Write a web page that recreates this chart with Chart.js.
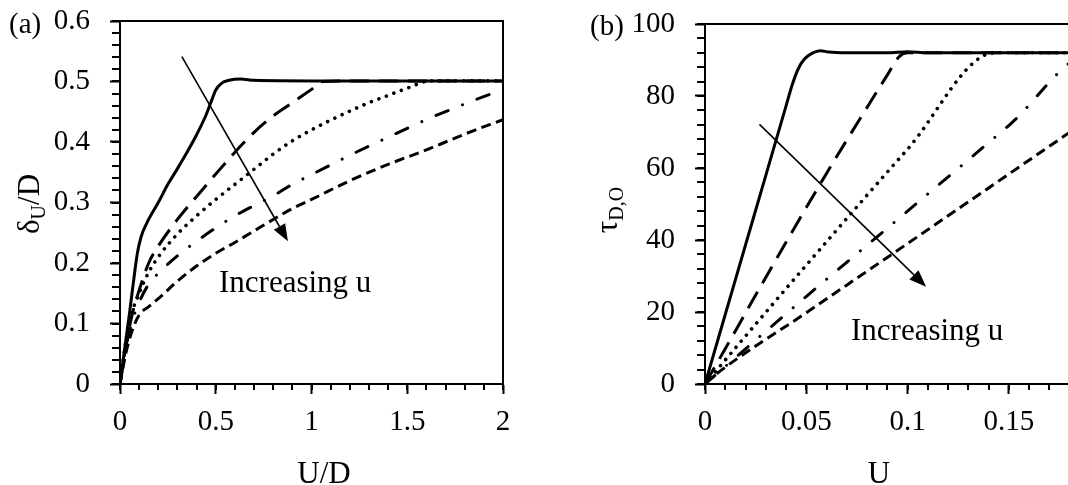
<!DOCTYPE html>
<html>
<head>
<meta charset="utf-8">
<script src="https://cdn.jsdelivr.net/npm/chart.js@4.4.1/dist/chart.umd.min.js"></script>
<style>
  html, body { margin: 0; padding: 0; background: #fff; overflow: hidden; width: 1068px; height: 485px; }
  #wrap { position: relative; width: 1068px; height: 485px; overflow: hidden; }
  canvas { position: absolute; top: 0; }
  #chartA { left: 0; width: 534px; height: 485px; }
  #chartB { left: 534px; width: 610px; height: 485px; }
</style>
</head>
<body>
<div id="wrap">
  <canvas id="chartA" width="534" height="485"></canvas>
  <canvas id="chartB" width="610" height="485"></canvas>
</div>
<script>
// ---------- (a) δU/D against U/D, one curve per u ----------
const ratioCurve1 = [[0,0],[0.02,0.048],[0.05,0.118],[0.07,0.168],[0.09,0.215],[0.11,0.243],[0.14,0.266],[0.2,0.3],[0.25,0.33],[0.3,0.356],[0.35,0.383],[0.4,0.412],[0.45,0.445],[0.48,0.47],[0.5,0.486],[0.53,0.497],[0.57,0.502],[0.63,0.504],[0.7,0.502],[1.0,0.501],[2.0,0.501]];
const ratioCurve2 = [[0,0],[0.03,0.06],[0.06,0.11],[0.1,0.155],[0.15,0.2],[0.2,0.228],[0.3,0.272],[0.4,0.31],[0.5,0.347],[0.6,0.383],[0.7,0.416],[0.8,0.443],[0.9,0.465],[1.0,0.487],[1.06,0.5],[1.2,0.501],[2.0,0.501]];
const ratioCurve3 = [[0,0],[0.03,0.07],[0.06,0.115],[0.1,0.15],[0.15,0.185],[0.2,0.21],[0.3,0.248],[0.4,0.278],[0.5,0.305],[0.6,0.33],[0.7,0.355],[0.8,0.38],[0.9,0.402],[1.0,0.42],[1.1,0.436],[1.2,0.451],[1.3,0.465],[1.4,0.477],[1.5,0.489],[1.62,0.501],[2.0,0.501]];
const ratioCurve4 = [[0,0],[0.03,0.06],[0.06,0.1],[0.1,0.135],[0.15,0.165],[0.2,0.183],[0.3,0.212],[0.4,0.236],[0.5,0.258],[0.6,0.278],[0.7,0.295],[0.8,0.311],[0.9,0.33],[1.0,0.346],[1.2,0.378],[1.4,0.408],[1.6,0.437],[1.8,0.463],[2.0,0.487]];
const ratioCurve5 = [[0,0],[0.03,0.05],[0.06,0.085],[0.1,0.114],[0.15,0.128],[0.2,0.141],[0.3,0.17],[0.4,0.195],[0.5,0.216],[0.6,0.234],[0.7,0.253],[0.8,0.272],[0.9,0.29],[1.0,0.305],[1.2,0.336],[1.4,0.363],[1.6,0.387],[1.8,0.413],[2.0,0.437]];
const ticksAx = [0, 0.5, 1, 1.5, 2];
const labelsAx = ['0', '0.5', '1', '1.5', '2'];
const ticksAy = [0, 0.1, 0.2, 0.3, 0.4, 0.5, 0.6];
const labelsAy = ['0', '0.1', '0.2', '0.3', '0.4', '0.5', '0.6'];

// ---------- (b) τD,O against U, one curve per u ----------
const tauCurve1 = [[0,0],[0.01,19.3],[0.02,38.6],[0.03,57.9],[0.04,77.2],[0.043,83],[0.046,87.5],[0.049,90.2],[0.053,91.9],[0.057,92.6],[0.061,92.2],[0.07,92],[0.09,92],[0.1,92.3],[0.11,92],[0.2,92]];
const tauCurve2 = [[0,0],[0.01,9.8],[0.03,29.6],[0.06,58.5],[0.08,76.8],[0.09,85.8],[0.096,91],[0.1,92],[0.2,92]];
const tauCurve3 = [[0,0],[0.02,13.3],[0.05,33],[0.1,65.2],[0.143,92],[0.2,92]];
const tauCurve4 = [[0,0],[0.05,24.3],[0.1,48],[0.15,71.8],[0.192,92],[0.2,92]];
const tauCurve5 = [[0,0],[0.005,2.5],[0.05,19.8],[0.1,39],[0.15,58.3],[0.2,77.6]];
const ticksBx = [0, 0.05, 0.1, 0.15, 0.2];
const labelsBx = ['0', '0.05', '0.1', '0.15', '0.2'];
const ticksBy = [0, 20, 40, 60, 80, 100];
const labelsBy = ['0', '20', '40', '60', '80', '100'];

const SERIF = '"Liberation Serif", "Times New Roman", serif';
const INK = '#000';

const toXY = pts => pts.map(p => ({ x: p[0], y: p[1] }));

// line looks shared by both panels, in u order
const curveStyles = [
  { borderWidth: 3,   borderDash: [],                     borderCapStyle: 'round' },
  { borderWidth: 3,   borderDash: [19, 10],               borderCapStyle: 'butt' },
  { borderWidth: 3.6, borderDash: [0.01, 8],              borderCapStyle: 'round' },
  { borderWidth: 3,   borderDash: [13, 15.5, 0.01, 15.5], borderCapStyle: 'round' },
  { borderWidth: 3,   borderDash: [10, 5.5],              borderCapStyle: 'butt' }
];

function makeDatasets(curves) {
  return curves.map((c, i) => Object.assign({
    data: toXY(c),
    borderColor: INK,
    backgroundColor: INK,
    fill: false,
    pointRadius: 0,
    cubicInterpolationMode: 'monotone',
    borderJoinStyle: 'round'
  }, curveStyles[i]));
}

function axisConfig(o) {
  return {
    type: 'linear',
    min: o.min, max: o.max,
    border: { display: true, color: INK, width: 2 },
    grid: { display: true, drawOnChartArea: false, drawTicks: true, tickLength: 10, tickWidth: 2, tickColor: INK },
    ticks: {
      color: INK, font: { family: SERIF, size: 29 }, padding: o.pad,
      maxRotation: 0, autoSkip: false,
      callback: (v, i) => o.labels[i]
    },
    afterBuildTicks: s => { s.ticks = o.ticks.map(v => ({ value: v })); },
    afterFit: s => {
      o.fit(s);
      // the plot box is placed by the layout padding alone
      s.paddingTop = 0; s.paddingBottom = 0; s.paddingLeft = 0; s.paddingRight = 0;
    }
  };
}

// frame, minor ticks, axis titles, arrow and note
function decorations(o) {
  return {
    id: 'decorations',
    afterDraw(chart) {
      const ctx = chart.ctx, a = chart.chartArea;
      const xs = chart.scales.x, ys = chart.scales.y;
      ctx.save();
      ctx.strokeStyle = INK; ctx.fillStyle = INK; ctx.lineWidth = 2;

      // top and right edges of the frame
      ctx.beginPath();
      ctx.moveTo(Math.round(a.left), Math.round(a.top));
      ctx.lineTo(Math.round(a.right), Math.round(a.top));
      ctx.lineTo(Math.round(a.right), Math.round(a.bottom));
      ctx.stroke();

      // minor ticks
      ctx.beginPath();
      const nx = Math.round((xs.max - xs.min) / o.minorX);
      for (let i = 0; i <= nx; i++) {
        const p = Math.round(xs.getPixelForValue(xs.min + i * o.minorX));
        ctx.moveTo(p, a.bottom); ctx.lineTo(p, a.bottom + 6);
      }
      const ny = Math.round((ys.max - ys.min) / o.minorY);
      for (let i = 0; i <= ny; i++) {
        const p = Math.round(ys.getPixelForValue(ys.min + i * o.minorY));
        ctx.moveTo(a.left - 8, p); ctx.lineTo(a.left, p);
      }
      ctx.stroke();

      // panel letter
      ctx.font = '29px ' + SERIF;
      ctx.textAlign = 'left'; ctx.textBaseline = 'alphabetic';
      ctx.fillText(o.panel, o.panelX, o.panelY);

      // x title
      ctx.font = '31px ' + SERIF;
      ctx.textAlign = 'center';
      ctx.fillText(o.xTitle, o.xTitleX, o.xTitleY);

      // y title with subscript, reading upwards
      ctx.save();
      ctx.translate(o.yTitleX, o.yTitleY);
      ctx.rotate(-Math.PI / 2);
      ctx.textAlign = 'left';
      let total = 0;
      o.yTitle.forEach(part => { ctx.font = part.size + 'px ' + SERIF; total += ctx.measureText(part.t).width; });
      let x = -total / 2;
      o.yTitle.forEach(part => {
        ctx.font = part.size + 'px ' + SERIF;
        ctx.fillText(part.t, x, part.dy);
        x += ctx.measureText(part.t).width;
      });
      ctx.restore();

      // arrow showing the trend with u
      const x0 = xs.getPixelForValue(o.arrow[0]), y0 = ys.getPixelForValue(o.arrow[1]);
      const x1 = xs.getPixelForValue(o.arrow[2]), y1 = ys.getPixelForValue(o.arrow[3]);
      const ang = Math.atan2(y1 - y0, x1 - x0);
      const hl = 17, hw = 6.5;
      const bx = x1 - hl * Math.cos(ang), by = y1 - hl * Math.sin(ang);
      ctx.lineWidth = 1.6;
      ctx.beginPath(); ctx.moveTo(x0, y0); ctx.lineTo(bx, by); ctx.stroke();
      ctx.beginPath();
      ctx.moveTo(x1, y1);
      ctx.lineTo(bx + hw * Math.sin(ang), by - hw * Math.cos(ang));
      ctx.lineTo(bx - hw * Math.sin(ang), by + hw * Math.cos(ang));
      ctx.closePath(); ctx.fill();

      // note
      ctx.font = '31px ' + SERIF;
      ctx.textAlign = 'left'; ctx.textBaseline = 'alphabetic';
      ctx.fillText(o.note, xs.getPixelForValue(o.noteAt[0]), ys.getPixelForValue(o.noteAt[1]));
      ctx.restore();
    }
  };
}

function baseOptions(padding, xAxis, yAxis) {
  return {
    responsive: false, animation: false, devicePixelRatio: 1,
    layout: { padding: padding },
    plugins: { legend: { display: false }, tooltip: { enabled: false } },
    scales: { x: xAxis, y: yAxis }
  };
}

new Chart(document.getElementById('chartA'), {
  type: 'line',
  data: { datasets: makeDatasets([ratioCurve1, ratioCurve2, ratioCurve3, ratioCurve4, ratioCurve5]) },
  options: baseOptions(
    { left: 0, right: 31, top: 21, bottom: 0 },
    axisConfig({ min: 0, max: 2, ticks: ticksAx, labels: labelsAx, pad: 11, fit: s => { s.height = 101; } }),
    axisConfig({ min: 0, max: 0.6, ticks: ticksAy, labels: labelsAy, pad: 20, fit: s => { s.width = 120; } })
  ),
  plugins: [decorations({
    panel: '(a)', panelX: 9, panelY: 33,
    minorX: 0.1, minorY: 0.02,
    xTitle: 'U/D', xTitleX: 324, xTitleY: 483,
    yTitle: [{ t: 'δ', size: 31, dy: 0 }, { t: 'U', size: 20, dy: 6 }, { t: '/D', size: 31, dy: 0 }],
    yTitleX: 39, yTitleY: 204,
    arrow: [0.323, 0.541, 0.877, 0.236],
    note: 'Increasing u', noteAt: [0.517, 0.152]
  })]
});

new Chart(document.getElementById('chartB'), {
  type: 'line',
  data: { datasets: makeDatasets([tauCurve1, tauCurve2, tauCurve3, tauCurve4, tauCurve5]) },
  options: baseOptions(
    { left: 0, right: 34, top: 24, bottom: 0 },
    axisConfig({ min: 0, max: 0.2, ticks: ticksBx, labels: labelsBx, pad: 11, fit: s => { s.height = 101; } }),
    axisConfig({ min: 0, max: 100, ticks: ticksBy, labels: labelsBy, pad: 20, fit: s => { s.width = 171; } })
  ),
  plugins: [decorations({
    panel: '(b)', panelX: 56, panelY: 35,
    minorX: 0.01, minorY: 4,
    xTitle: 'U', xTitleX: 345, xTitleY: 483,
    yTitle: [{ t: 'τ', size: 31, dy: 0 }, { t: 'D,O', size: 20, dy: 6 }],
    yTitleX: 83, yTitleY: 210,
    arrow: [0.0269, 72.1, 0.1092, 27.0],
    note: 'Increasing u', noteAt: [0.0721, 12.2]
  })]
});
</script>
</body>
</html>
